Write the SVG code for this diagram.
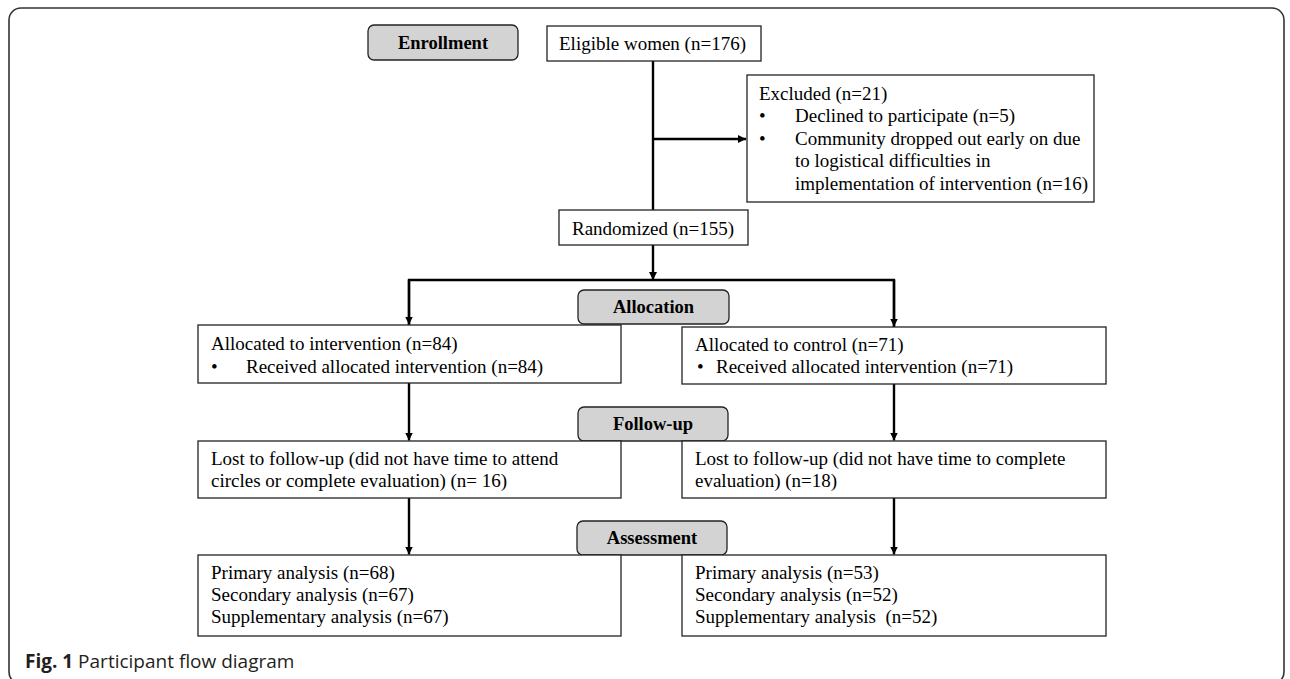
<svg xmlns="http://www.w3.org/2000/svg" width="1290" height="679" viewBox="0 0 1290 679">
<defs>
<marker id="ah" viewBox="0 0 10 10" refX="10" refY="5" markerWidth="8" markerHeight="8" markerUnits="userSpaceOnUse" orient="auto">
<path d="M0,0 L10,5 L0,10 z" fill="#000"/>
</marker>
</defs>
<style>
.frame{fill:none;stroke:#333;stroke-width:1.6}
.box{fill:#fff;stroke:#222;stroke-width:1.3}
.stage{fill:#d3d3d3;stroke:#222;stroke-width:1.3}
.t{font-family:"Liberation Serif","Times New Roman",serif;font-size:19px;fill:#000;white-space:pre}
.b{font-family:"Liberation Serif","Times New Roman",serif;font-size:18.5px;font-weight:bold;fill:#000}
.con{fill:none;stroke:#000;stroke-width:2.4}
.cap{font-family:"Open Sans","Noto Sans",sans-serif;font-size:19px;fill:#231f20}
</style>
<rect class="frame" x="9" y="8" width="1275" height="676" rx="12"/>

<g id="connectors">
<line class="con" x1="653" y1="61" x2="653" y2="210"/>
<line class="con" x1="653" y1="139" x2="746" y2="139" marker-end="url(#ah)"/>
<line class="con" x1="653" y1="245" x2="653" y2="280" marker-end="url(#ah)"/>
<polyline class="con" points="409,325 409,280 894,280 894,327" />
<line class="con" x1="409" y1="280" x2="409" y2="324.5" marker-end="url(#ah)"/>
<line class="con" x1="894" y1="280" x2="894" y2="326.5" marker-end="url(#ah)"/>
<line class="con" x1="409" y1="383" x2="409" y2="440.5" marker-end="url(#ah)"/>
<line class="con" x1="894" y1="384" x2="894" y2="440.5" marker-end="url(#ah)"/>
<line class="con" x1="409" y1="498" x2="409" y2="554.5" marker-end="url(#ah)"/>
<line class="con" x1="894" y1="498" x2="894" y2="554.5" marker-end="url(#ah)"/>
</g>

<g id="enrollment">
<rect class="stage" x="368" y="25" width="150" height="35" rx="6"/>
<text class="b" x="443" y="49" text-anchor="middle">Enrollment</text>
</g>
<g id="eligible">
<rect class="box" x="547" y="26" width="214" height="35"/>
<text class="t" x="559" y="50">Eligible women (n=176)</text>
</g>
<g id="excluded">
<rect class="box" x="747" y="75" width="347" height="127"/>
<text class="t" x="759" y="99.5">Excluded (n=21)</text>
<text class="t" x="759" y="122">•</text>
<text class="t" x="795" y="122">Declined to participate (n=5)</text>
<text class="t" x="759" y="144.5">•</text>
<text class="t" x="795" y="144.5">Community dropped out early on due</text>
<text class="t" x="795" y="167">to logistical difficulties in</text>
<text class="t" x="795" y="189.5">implementation of intervention (n=16)</text>
</g>
<g id="randomized">
<rect class="box" x="559" y="210" width="189" height="35"/>
<text class="t" x="572" y="235">Randomized (n=155)</text>
</g>
<g id="allocation">
<rect class="stage" x="578" y="290" width="151" height="34" rx="6"/>
<text class="b" x="653.5" y="313" text-anchor="middle">Allocation</text>
</g>
<g id="alloc-intervention">
<rect class="box" x="198" y="325" width="423" height="58"/>
<text class="t" x="211" y="350">Allocated to intervention (n=84)</text>
<text class="t" x="211" y="373">•</text>
<text class="t" x="246" y="373">Received allocated intervention (n=84)</text>
</g>
<g id="alloc-control">
<rect class="box" x="682" y="327" width="424" height="57"/>
<text class="t" x="695" y="351">Allocated to control (n=71)</text>
<text class="t" x="697" y="373">•</text>
<text class="t" x="716" y="373">Received allocated intervention (n=71)</text>
</g>
<g id="followup">
<rect class="stage" x="578" y="407" width="150" height="34" rx="6"/>
<text class="b" x="653" y="430" text-anchor="middle">Follow-up</text>
</g>
<g id="lost-intervention">
<rect class="box" x="198" y="441" width="423" height="57"/>
<text class="t" x="211" y="465">Lost to follow-up (did not have time to attend</text>
<text class="t" x="211" y="487">circles or complete evaluation) (n= 16)</text>
</g>
<g id="lost-control">
<rect class="box" x="682" y="441" width="424" height="57"/>
<text class="t" x="695" y="465">Lost to follow-up (did not have time to complete</text>
<text class="t" x="695" y="487">evaluation) (n=18)</text>
</g>
<g id="assessment">
<rect class="stage" x="577" y="521" width="150" height="34" rx="6"/>
<text class="b" x="652" y="544" text-anchor="middle">Assessment</text>
</g>
<g id="analysis-intervention">
<rect class="box" x="198" y="555" width="423" height="81"/>
<text class="t" x="211" y="579">Primary analysis (n=68)</text>
<text class="t" x="211" y="601">Secondary analysis (n=67)</text>
<text class="t" x="211" y="623">Supplementary analysis (n=67)</text>
</g>
<g id="analysis-control">
<rect class="box" x="682" y="555" width="424" height="81"/>
<text class="t" x="695" y="579">Primary analysis (n=53)</text>
<text class="t" x="695" y="601">Secondary analysis (n=52)</text>
<text class="t" x="695" y="623">Supplementary analysis  (n=52)</text>
</g>
<text class="cap" x="25" y="668"><tspan font-weight="bold">Fig. 1</tspan> Participant flow diagram</text>
</svg>
